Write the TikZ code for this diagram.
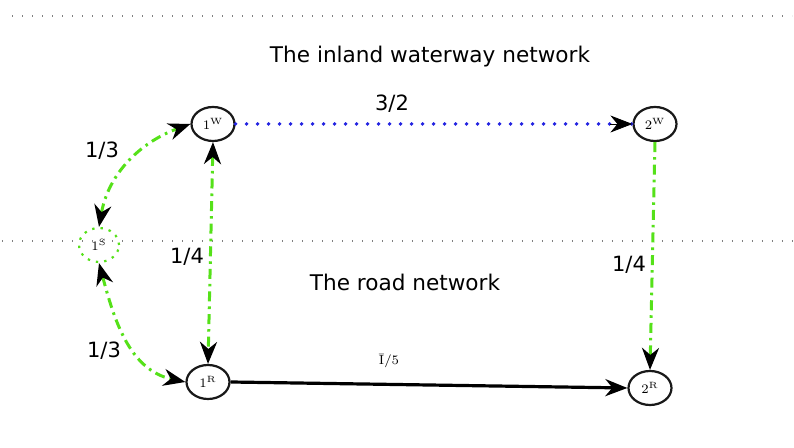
\documentclass[tikz,border=0pt]{standalone}
\usepackage{fontspec}
\newfontfamily\dv{DejaVu Sans}
\usetikzlibrary{arrows.meta,shapes.geometric}
\definecolor{lgreen}{RGB}{85,225,25}
\definecolor{dblue}{RGB}{35,35,225}
\tikzset{
  vert/.style={ellipse,draw=black!90,line width=1.1pt,minimum width=21.5pt,minimum height=17pt,inner sep=0pt,font=\fontsize{6.5}{7}\selectfont},
  sertex/.style={ellipse,draw=lgreen,line width=1.1pt,dash pattern=on 1.2pt off 3pt,minimum width=20pt,minimum height=17pt,inner sep=0pt,font=\fontsize{6.5}{7}\selectfont},
  tip/.style={-{Stealth[black,length=11pt,width=8.5pt,inset=3.5pt]}},
  biarrow/.style={{Stealth[black,length=11pt,width=8.5pt,inset=3.5pt]}-{Stealth[black,length=11pt,width=8.5pt,inset=3.5pt]}},
  greenline/.style={draw=lgreen,line width=1.5pt,dash pattern=on 5pt off 2.5pt on 1.3pt off 2.5pt},
  blueline/.style={draw=dblue,line width=1.9pt,line cap=round,dash pattern=on 0pt off 5.5pt},
  sepline/.style={draw=gray,line width=0.6pt,dash pattern=on 0.6pt off 4.4pt},
  lab/.style={font=\dv\fontsize{10.5}{12}\selectfont},
  title/.style={font=\dv\fontsize{10.8}{13}\selectfont}
}
\begin{document}
\begin{tikzpicture}[x=0.5pt,y=-0.5pt]
\useasboundingbox (0,0) rectangle (794,448);
% separators
\coordinate (t1) at (12,16);
\coordinate (t2) at (792,16);
\coordinate (m1) at (2,241);
\coordinate (m2) at (794,241);
\draw[sepline] (t1) -- (t2);
\draw[sepline] (m1) -- (m2);
% titles
\node[title] (tw) at (430,57) {The inland waterway network};
\node[title] (tr) at (405,282) {The road network};
% vertices
\node[vert] (w1) at (213,124) {1\textsuperscript{W}};
\node[vert] (w2) at (655,124) {2\textsuperscript{W}};
\node[vert] (r1) at (208,382) {1\textsuperscript{R}};
\node[vert] (r2) at (650,388) {2\textsuperscript{R}};
\node[sertex] (s1) at (99,245) {1\textsuperscript{S}};
% edges
\draw[blueline] (w1.east) -- (w2.west);
\draw[tip] ([xshift=-11pt]w2.west) -- (w2.west);
\draw[greenline,biarrow] (w1.south) -- (r1.north);
\draw[greenline,tip] (w2.south) -- (r2.north);
\draw[line width=1.6pt,tip] (r1.east) -- (r2.west);
\draw[greenline,biarrow] (s1.north) to[out=80,in=200] (w1.west);
\draw[greenline,biarrow] (s1.south) to[out=-75,in=168] (r1.west);
% labels
\node[lab] (l32) at (392,104) {3/2};
\node[lab] (l13a) at (102,151) {1/3};
\node[lab] (l14a) at (187,257) {1/4};
\node[lab] (l14b) at (629,265) {1/4};
\node[lab] (l13b) at (104,351) {1/3};
\node[font=\fontsize{6.5}{7}\selectfont] (l15) at (389,361) {Ī/5};
\end{tikzpicture}
\end{document}
